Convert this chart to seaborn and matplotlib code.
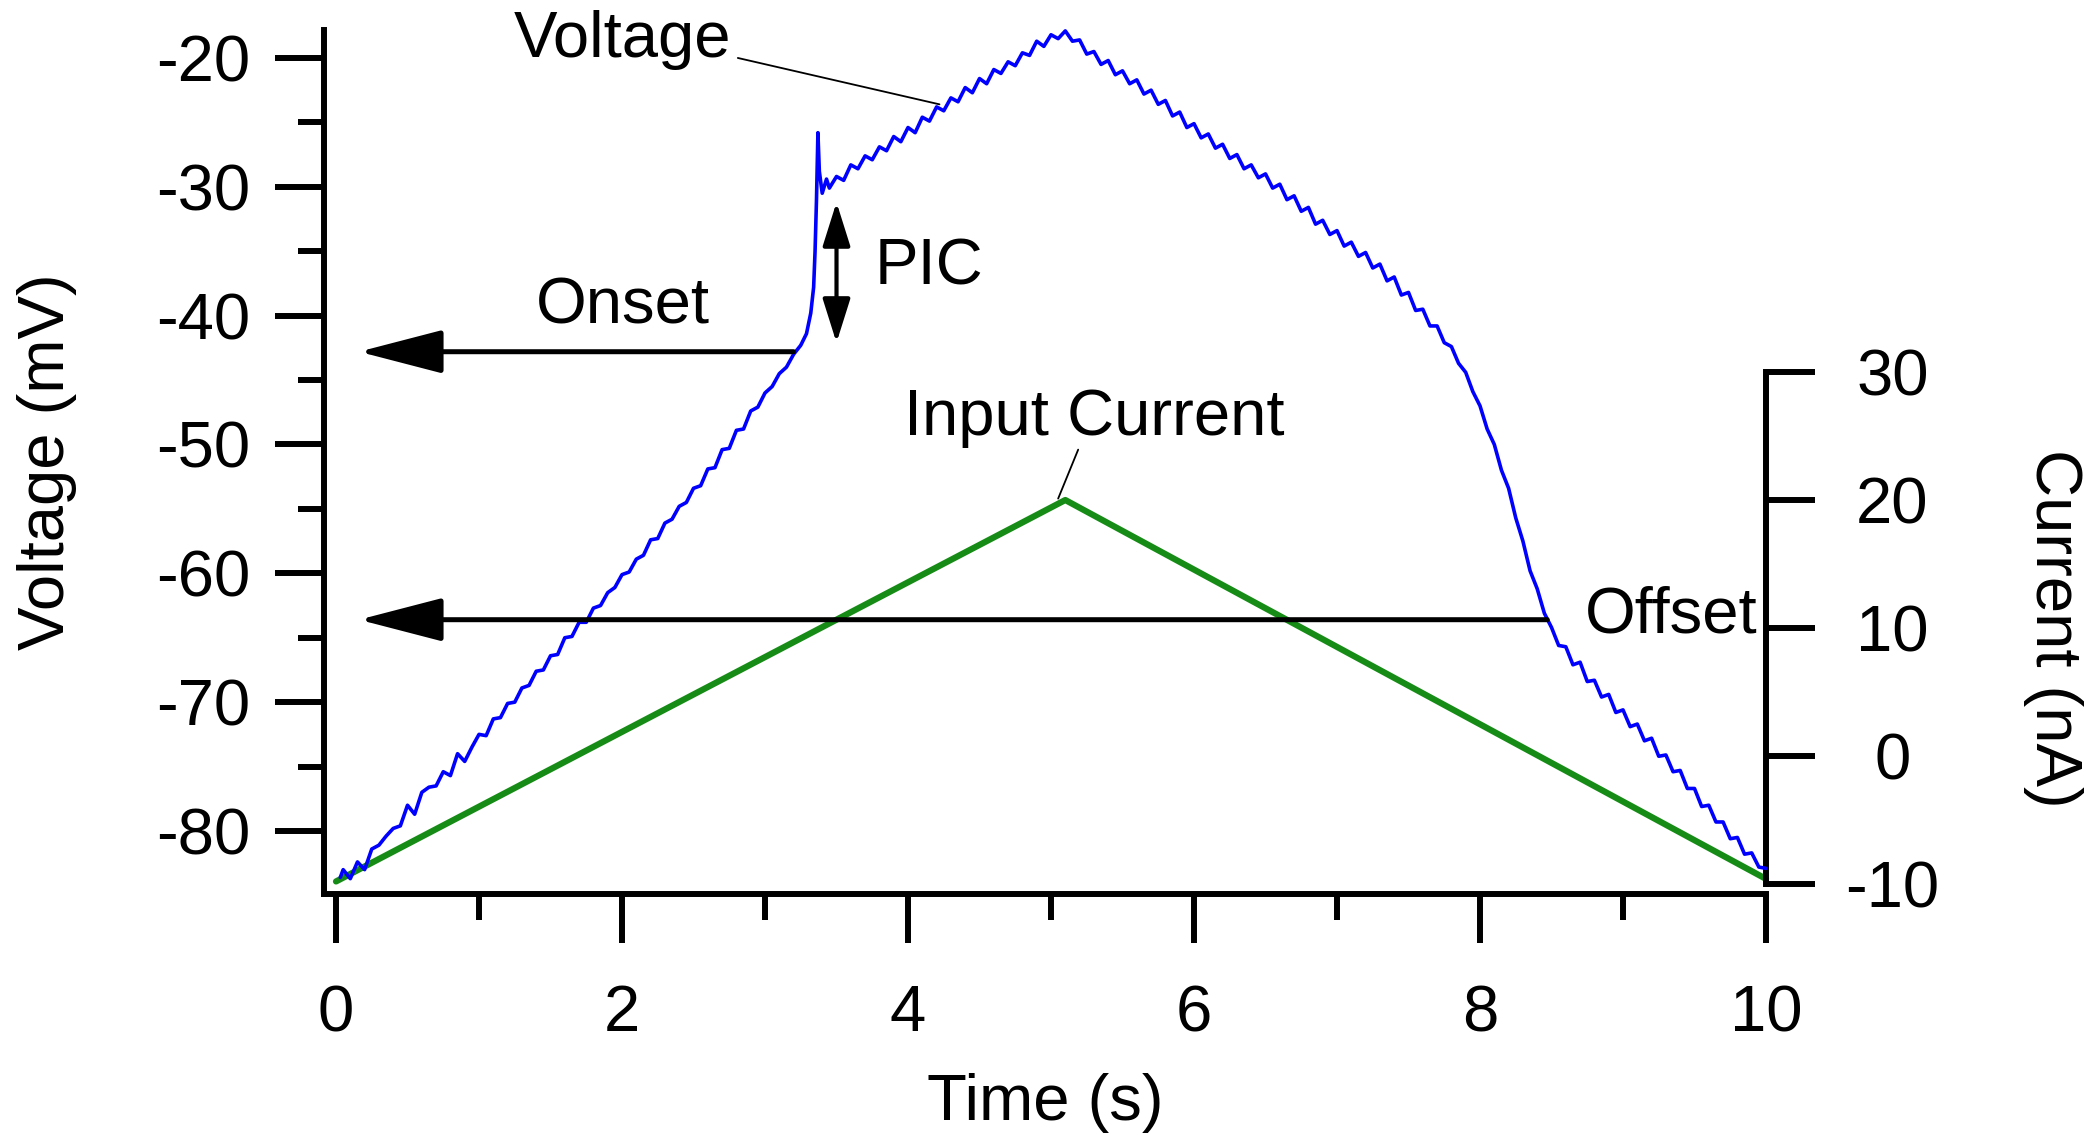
import numpy as np
import pandas as pd
import matplotlib
matplotlib.use("Agg")
import matplotlib.pyplot as plt
from matplotlib.patches import FancyArrowPatch
from matplotlib.ticker import FixedLocator, NullFormatter
import seaborn as sns

# ---------------- data ----------------
time_s = [0.03, 0.05, 0.10, 0.15, 0.20, 0.25, 0.30, 0.35, 0.40, 0.45, 0.50, 0.55, 0.60, 0.65, 0.70,
          0.75, 0.80, 0.85, 0.90, 0.95, 1.00, 1.05, 1.10, 1.15, 1.20, 1.25, 1.30, 1.35, 1.40, 1.45,
          1.50, 1.55, 1.60, 1.65, 1.70, 1.75, 1.80, 1.85, 1.90, 1.95, 2.00, 2.05, 2.10, 2.15, 2.20,
          2.25, 2.30, 2.35, 2.40, 2.45, 2.50, 2.55, 2.60, 2.65, 2.70, 2.75, 2.80, 2.85, 2.90, 2.95,
          3.00, 3.05, 3.10, 3.15, 3.20, 3.25, 3.29, 3.32, 3.34, 3.35, 3.36, 3.37, 3.38, 3.40, 3.43,
          3.45, 3.50, 3.55, 3.60, 3.65, 3.70, 3.75, 3.80, 3.85, 3.90, 3.95, 4.00, 4.05, 4.10, 4.15,
          4.20, 4.25, 4.30, 4.35, 4.40, 4.45, 4.50, 4.55, 4.60, 4.65, 4.70, 4.75, 4.80, 4.85, 4.90,
          4.95, 5.00, 5.05, 5.10, 5.15, 5.20, 5.25, 5.30, 5.35, 5.40, 5.45, 5.50, 5.55, 5.60, 5.65,
          5.70, 5.75, 5.80, 5.85, 5.90, 5.95, 6.00, 6.05, 6.10, 6.15, 6.20, 6.25, 6.30, 6.35, 6.40,
          6.45, 6.50, 6.55, 6.60, 6.65, 6.70, 6.75, 6.80, 6.85, 6.90, 6.95, 7.00, 7.05, 7.10, 7.15,
          7.20, 7.25, 7.30, 7.35, 7.40, 7.45, 7.50, 7.55, 7.60, 7.65, 7.70, 7.75, 7.80, 7.85, 7.90,
          7.95, 8.00, 8.05, 8.10, 8.15, 8.20, 8.25, 8.30, 8.35, 8.40, 8.45, 8.50, 8.55, 8.60, 8.65,
          8.70, 8.75, 8.80, 8.85, 8.90, 8.95, 9.00, 9.05, 9.10, 9.15, 9.20, 9.25, 9.30, 9.35, 9.40,
          9.45, 9.50, 9.55, 9.60, 9.65, 9.70, 9.75, 9.80, 9.85, 9.90, 9.95, 10.00]
voltage_mv = [-83.6, -83.0, -83.7, -82.4, -83.0, -81.4, -81.1, -80.4, -79.8, -79.6, -78.0, -78.7, -77.0, -76.6, -76.5,
              -75.4, -75.7, -74.0, -74.6, -73.5, -72.5, -72.6, -71.3, -71.2, -70.1, -70.0, -68.9, -68.7, -67.6, -67.5,
              -66.4, -66.3, -65.0, -64.9, -63.8, -63.8, -62.7, -62.5, -61.5, -61.1, -60.1, -59.9, -58.9, -58.6, -57.4,
              -57.3, -56.1, -55.8, -54.8, -54.5, -53.4, -53.2, -51.9, -51.8, -50.4, -50.3, -48.9, -48.8, -47.4, -47.1,
              -46.0, -45.5, -44.5, -44.0, -43.0, -42.3, -41.4, -39.8, -37.8, -35.0, -31.0, -25.8, -28.8, -30.5, -29.4,
              -30.1, -29.2, -29.5, -28.3, -28.6, -27.6, -27.9, -26.9, -27.2, -26.1, -26.5, -25.4, -25.8, -24.6, -24.9,
              -23.8, -24.1, -23.1, -23.4, -22.3, -22.7, -21.6, -22.0, -20.9, -21.2, -20.3, -20.6, -19.6, -19.8, -18.7,
              -19.1, -18.2, -18.5, -17.9, -18.7, -18.6, -19.7, -19.5, -20.5, -20.2, -21.3, -21.0, -22.0, -21.7, -22.8,
              -22.5, -23.6, -23.3, -24.5, -24.2, -25.4, -25.1, -26.2, -25.9, -27.0, -26.7, -27.8, -27.5, -28.6, -28.3,
              -29.3, -29.0, -30.1, -29.8, -31.0, -30.7, -31.9, -31.6, -32.9, -32.6, -33.7, -33.4, -34.6, -34.3, -35.4,
              -35.1, -36.3, -36.0, -37.3, -37.0, -38.4, -38.2, -39.6, -39.5, -40.8, -40.8, -42.1, -42.4, -43.7, -44.4,
              -45.9, -47.0, -48.8, -50.0, -52.0, -53.4, -55.7, -57.5, -59.8, -61.2, -63.1, -64.2, -65.6, -65.7, -67.1,
              -66.9, -68.4, -68.3, -69.6, -69.4, -70.8, -70.6, -71.9, -71.7, -73.0, -72.8, -74.2, -74.1, -75.4, -75.3,
              -76.7, -76.7, -78.1, -78.0, -79.3, -79.3, -80.6, -80.5, -81.8, -81.7, -82.8, -82.9]

current_time_s = [0.0, 5.1, 10.0]
current_na = [-9.8, 20.0, -9.6]

volt_ticks = [-80, -70, -60, -50, -40, -30, -20]
volt_minor = [-75, -65, -55, -45, -35, -25]
time_ticks = [0, 2, 4, 6, 8, 10]
time_minor = [1, 3, 5, 7, 9]
curr_ticks = [-10, 0, 10, 20, 30]

onset_mv = -42.8
offset_mv = -63.6
onset_t = 3.20
offset_t = 8.47
pic_top_mv = -31.2
pic_bottom_mv = -42.1

# ---------------- style ----------------
sns.set_style("white")
plt.rcParams['font.family'] = ['Liberation Sans', 'DejaVu Sans']
plt.rcParams['text.color'] = 'black'
plt.rcParams['axes.labelcolor'] = 'black'
plt.rcParams['xtick.color'] = 'black'
plt.rcParams['ytick.color'] = 'black'
FS = 47
LW = 4.3

fig = plt.figure(figsize=(21, 11.37), dpi=100)
ax = fig.add_axes([324/2100, 1 - 894/1137, 1442/2100, 864/1137])
ax.set_facecolor('none')

vdf = pd.DataFrame({"t": time_s, "v": voltage_mv})
idf = pd.DataFrame({"t": current_time_s, "i": current_na})

ax2 = ax.twinx()
sns.lineplot(data=idf, x="t", y="i", ax=ax2, color="#168c16", linewidth=4.5,
             estimator=None, sort=False, clip_on=False, zorder=2)
sns.lineplot(data=vdf, x="t", y="v", ax=ax, color="#0000ff", linewidth=2.6,
             estimator=None, sort=False, clip_on=False)

ax.set_zorder(ax2.get_zorder() + 1)

ax.set_xlim(-0.084, 10.0)
ax.set_ylim(-84.89, -17.83)
ax2.set_ylim(-10.78, 56.72)

# spines
for s in ["top", "right"]:
    ax.spines[s].set_visible(False)
for s in ["top", "left", "bottom"]:
    ax2.spines[s].set_visible(False)
ax.spines["left"].set_linewidth(LW)
ax.spines["bottom"].set_linewidth(LW)
ax2.spines["right"].set_linewidth(LW)
ax2.spines["right"].set_bounds(-10, 30)
for s in ax.spines.values():
    s.set_color("black")
ax2.spines["right"].set_color("black")

# ticks
ax.yaxis.set_major_locator(FixedLocator(volt_ticks))
ax.yaxis.set_minor_locator(FixedLocator(volt_minor))
ax.xaxis.set_major_locator(FixedLocator(time_ticks))
ax.xaxis.set_minor_locator(FixedLocator(time_minor))
ax.yaxis.set_minor_formatter(NullFormatter())
ax.xaxis.set_minor_formatter(NullFormatter())
ax.set_yticklabels([str(v) for v in volt_ticks])
ax.set_xticklabels([str(v) for v in time_ticks])
ax.tick_params(axis="y", which="major", direction="out", length=35, width=LW,
               labelsize=FS, pad=18, left=True, colors="black")
ax.tick_params(axis="y", which="minor", direction="out", length=19, width=LW, left=True, colors="black")
ax.tick_params(axis="x", which="major", direction="out", length=35, width=LW,
               labelsize=FS, pad=30, bottom=True, colors="black")
ax.tick_params(axis="x", which="minor", direction="out", length=19, width=LW, bottom=True, colors="black")

ax2.yaxis.set_major_locator(FixedLocator(curr_ticks))
ax2.set_yticklabels([str(v) for v in curr_ticks])
ax2.tick_params(axis="y", which="major", direction="out", length=35, width=LW,
                labelsize=FS, pad=56, right=True, colors="black")
for lab in ax2.get_yticklabels():
    lab.set_horizontalalignment("center")

# axis labels
ax.set_xlabel("Time (s)", fontsize=FS, color="black")
ax.xaxis.set_label_coords(0.5, -0.207)
ax.set_ylabel("Voltage (mV)", fontsize=FS, color="black")
ax.yaxis.set_label_coords(-0.171, 0.5)
ax2.set_ylabel("Current (nA)", fontsize=FS, rotation=270, va="bottom", color="black")
ax2.yaxis.set_label_coords(1.178, 0.308)

# ---------------- annotations ----------------
def arrow(p0, p1, style, lw):
    a = FancyArrowPatch(p0, p1, arrowstyle=style, mutation_scale=1, lw=lw,
                        color="black", shrinkA=0, shrinkB=0, clip_on=False, zorder=5,
                        transform=ax.transData)
    ax.add_patch(a)

arrow((onset_t, onset_mv), (0.16, onset_mv), "-|>,head_length=52,head_width=13.5", 3.6)
arrow((offset_t, offset_mv), (0.16, offset_mv), "-|>,head_length=52,head_width=13.5", 3.6)
arrow((3.50, pic_bottom_mv), (3.50, pic_top_mv), "<|-|>,head_length=27,head_width=8.5", 3.0)

ax.plot([2.81, 4.22], [-20.0, -23.6], color="black", lw=1.3, clip_on=False, zorder=5)
ax.plot([5.19, 5.05], [-50.4, -54.2], color="black", lw=1.3, clip_on=False, zorder=5)

ax.text(1.24, -19.92, "Voltage", fontsize=FS, ha="left", va="baseline", clip_on=False, color="black")
ax.text(1.40, -40.6, "Onset", fontsize=FS, ha="left", va="baseline", color="black")
ax.text(3.77, -37.6, "PIC", fontsize=FS, ha="left", va="baseline", color="black")
ax.text(3.97, -49.3, "Input Current", fontsize=FS, ha="left", va="baseline", color="black")
ax.text(8.73, -64.6, "Offset", fontsize=FS, ha="left", va="baseline", color="black")

fig.savefig("out.png", dpi=100, facecolor="white")
